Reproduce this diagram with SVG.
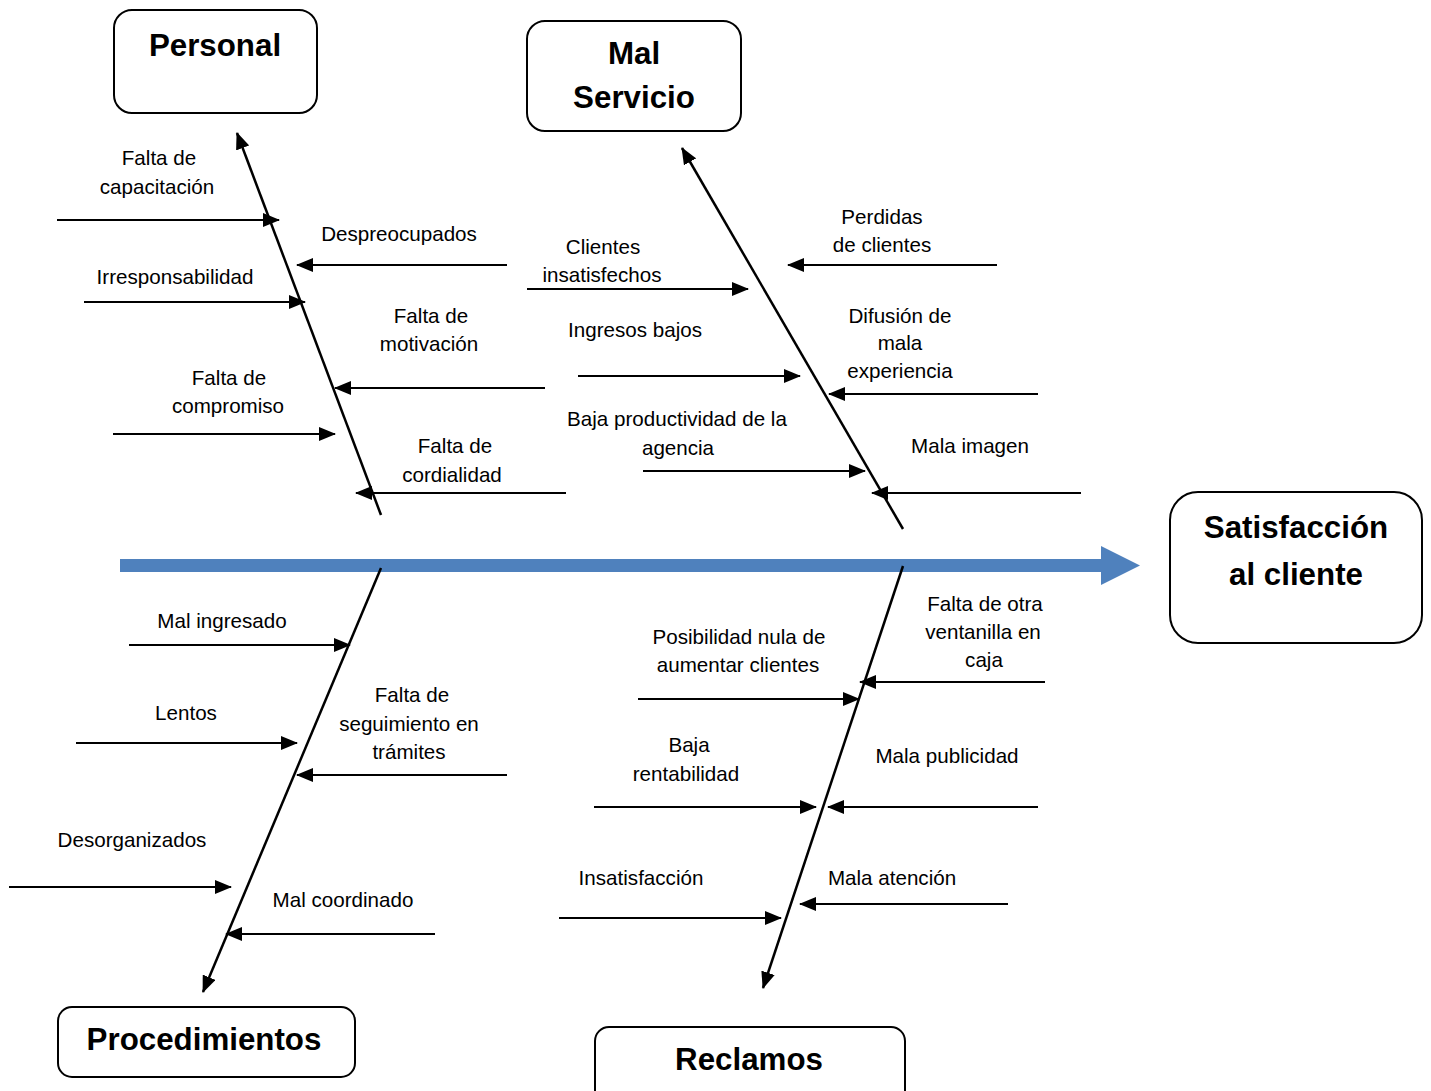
<svg xmlns="http://www.w3.org/2000/svg" width="1431" height="1091" viewBox="0 0 1431 1091">
<style>
.box{fill:#fff;stroke:#000;stroke-width:2}
.title{font-family:"Liberation Sans",Arial,sans-serif;font-weight:bold;font-size:31.3px;fill:#000;text-anchor:middle}
.lbl{font-family:"Liberation Sans",Arial,sans-serif;font-size:20.6px;fill:#000;text-anchor:middle}
.bone{stroke:#000;stroke-width:2.5;fill:none;marker-end:url(#ah)}
.rib{stroke:#000;stroke-width:2.2;fill:none;marker-end:url(#ah)}
</style>
<defs>
<marker id="ah" markerUnits="userSpaceOnUse" markerWidth="18" markerHeight="14" refX="16" refY="7" orient="auto">
<path d="M0,0 L17,7 L0,14 Z" fill="#000"/>
</marker>
</defs>
<rect width="1431" height="1091" fill="#fff"/>

<g id="spine">
<rect x="120" y="559" width="982" height="13" fill="#4F81BD"/>
<polygon points="1101,546 1140,565.5 1101,585" fill="#4F81BD"/>
</g>

<g id="personal"><rect class="box" x="114" y="10" width="203" height="103" rx="18"/><text class="title" x="215" y="56">Personal</text></g>
<g id="mal-servicio"><rect class="box" x="527" y="21" width="214" height="110" rx="18"/><text class="title" x="634" y="64">Mal</text><text class="title" x="634" y="108">Servicio</text></g>
<g id="satisfaccion"><rect class="box" x="1170" y="492" width="252" height="151" rx="28"/><text class="title" x="1296" y="538">Satisfacción</text><text class="title" x="1296" y="585">al cliente</text></g>
<g id="procedimientos"><rect class="box" x="58" y="1007" width="297" height="70" rx="14"/><text class="title" x="204" y="1050">Procedimientos</text></g>
<g id="reclamos"><rect class="box" x="595" y="1027" width="310" height="90" rx="14"/><text class="title" x="749" y="1070">Reclamos</text></g>

<g id="connectors">
<line class="bone" x1="381" y1="515" x2="237" y2="133"/>
<line class="bone" x1="903" y1="529" x2="682" y2="148"/>
<line class="bone" x1="381" y1="568" x2="203" y2="992"/>
<line class="bone" x1="903" y1="566" x2="763" y2="988"/>

<line class="rib" x1="57" y1="220" x2="279" y2="220"/>
<line class="rib" x1="507" y1="265" x2="297" y2="265"/>
<line class="rib" x1="84" y1="302" x2="305" y2="302"/>
<line class="rib" x1="545" y1="388" x2="335" y2="388"/>
<line class="rib" x1="113" y1="434" x2="335" y2="434"/>
<line class="rib" x1="566" y1="493" x2="356" y2="493"/>

<line class="rib" x1="997" y1="265" x2="788" y2="265"/>
<line class="rib" x1="527" y1="289" x2="748" y2="289"/>
<line class="rib" x1="1038" y1="394" x2="829" y2="394"/>
<line class="rib" x1="578" y1="376" x2="800" y2="376"/>
<line class="rib" x1="643" y1="471" x2="865" y2="471"/>
<line class="rib" x1="1081" y1="493" x2="872" y2="493"/>

<line class="rib" x1="129" y1="645" x2="350" y2="645"/>
<line class="rib" x1="76" y1="743" x2="297" y2="743"/>
<line class="rib" x1="507" y1="775" x2="297" y2="775"/>
<line class="rib" x1="9" y1="887" x2="231" y2="887"/>
<line class="rib" x1="435" y1="934" x2="226" y2="934"/>

<line class="rib" x1="1045" y1="682" x2="860" y2="682"/>
<line class="rib" x1="638" y1="699" x2="859" y2="699"/>
<line class="rib" x1="594" y1="807" x2="816" y2="807"/>
<line class="rib" x1="1038" y1="807" x2="828" y2="807"/>
<line class="rib" x1="559" y1="918" x2="781" y2="918"/>
<line class="rib" x1="1008" y1="904" x2="800" y2="904"/>
</g>

<g id="labels">
<text class="lbl" x="159" y="165">Falta de</text><text class="lbl" x="157" y="194">capacitación</text>
<text class="lbl" x="399" y="241">Despreocupados</text>
<text class="lbl" x="175" y="284">Irresponsabilidad</text>
<text class="lbl" x="431" y="323">Falta de</text><text class="lbl" x="429" y="351">motivación</text>
<text class="lbl" x="229" y="385">Falta de</text><text class="lbl" x="228" y="413">compromiso</text>
<text class="lbl" x="455" y="453">Falta de</text><text class="lbl" x="452" y="482">cordialidad</text>

<text class="lbl" x="882" y="224">Perdidas</text><text class="lbl" x="882" y="252">de clientes</text>
<text class="lbl" x="603" y="254">Clientes</text><text class="lbl" x="602" y="282">insatisfechos</text>
<text class="lbl" x="900" y="323">Difusión de</text><text class="lbl" x="900" y="350">mala</text><text class="lbl" x="900" y="378">experiencia</text>
<text class="lbl" x="635" y="337">Ingresos bajos</text>
<text class="lbl" x="677" y="426">Baja productividad de la</text><text class="lbl" x="678" y="455">agencia</text>
<text class="lbl" x="970" y="453">Mala imagen</text>

<text class="lbl" x="222" y="628">Mal ingresado</text>
<text class="lbl" x="186" y="720">Lentos</text>
<text class="lbl" x="412" y="702">Falta de</text><text class="lbl" x="409" y="731">seguimiento en</text><text class="lbl" x="409" y="759">trámites</text>
<text class="lbl" x="132" y="847">Desorganizados</text>
<text class="lbl" x="343" y="907">Mal coordinado</text>

<text class="lbl" x="985" y="611">Falta de otra</text><text class="lbl" x="983" y="639">ventanilla en</text><text class="lbl" x="984" y="667">caja</text>
<text class="lbl" x="739" y="644">Posibilidad nula de</text><text class="lbl" x="738" y="672">aumentar clientes</text>
<text class="lbl" x="689" y="752">Baja</text><text class="lbl" x="686" y="781">rentabilidad</text>
<text class="lbl" x="947" y="763">Mala publicidad</text>
<text class="lbl" x="641" y="885">Insatisfacción</text>
<text class="lbl" x="892" y="885">Mala atención</text>
</g>
</svg>
